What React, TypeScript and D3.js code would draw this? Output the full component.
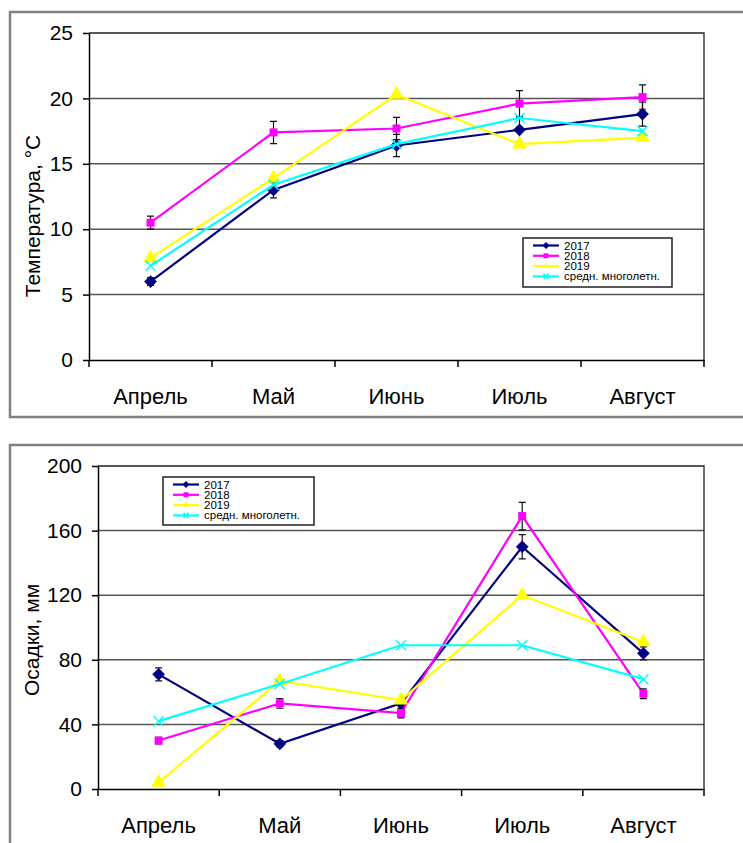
import React, { useEffect, useRef } from "react";
import * as d3 from "d3";

const months = ["Апрель", "Май", "Июнь", "Июль", "Август"];
const seriesNames = ["2017", "2018", "2019", "средн. многолетн."];

// temperature, °C
const tempTicks = [0, 5, 10, 15, 20, 25];
const temp2017 = [6.0, 13.0, 16.4, 17.6, 18.8];
const temp2018 = [10.5, 17.4, 17.7, 19.6, 20.1];
const temp2019 = [7.8, 13.9, 20.3, 16.5, 17.0];
const tempAvg = [7.2, 13.4, 16.5, 18.5, 17.5];
const temp2017Err = [0.3, 0.6, 0.85, 0.9, 0.92];
const temp2018Err = [0.5, 0.85, 0.85, 1.0, 0.93];

// precipitation, mm
const precTicks = [0, 40, 80, 120, 160, 200];
const prec2017 = [71, 28, 53, 150, 84];
const prec2018 = [30, 53, 47, 169, 59];
const prec2019 = [4, 67, 55, 120, 91];
const precAvg = [42, 65, 89, 89, 68];
const prec2017Err = [4, 2, 3, 7.5, 4];
const prec2018Err = [2, 3, 3, 8.5, 3];

const colors = ["#000080", "#FF00FF", "#FFFF00", "#00FFFF"];
const FONT = "'Liberation Sans', Arial, sans-serif";

function marker(g, kind, x, y, s, color) {
  if (kind === 0) {
    g.append("path")
      .attr("d", d3.symbol(d3.symbolSquare, s * s)())
      .attr("transform", `translate(${x},${y}) rotate(45)`)
      .attr("fill", color);
  } else if (kind === 1) {
    g.append("path")
      .attr("d", d3.symbol(d3.symbolSquare, s * s)())
      .attr("transform", `translate(${x},${y})`)
      .attr("fill", color);
  } else if (kind === 2) {
    g.append("path")
      .attr("d", d3.symbol(d3.symbolTriangle, s * s * 0.55)())
      .attr("transform", `translate(${x},${y})`)
      .attr("fill", color);
  } else {
    const h = s / 2;
    g.append("path")
      .attr("d", `M${x - h},${y - h}L${x + h},${y + h}M${x - h},${y + h}L${x + h},${y - h}`)
      .attr("stroke", color)
      .attr("stroke-width", 1.5)
      .attr("fill", "none");
  }
}

function drawChart(svg, cfg) {
  const { frame, plot, ticks, series, errs, title, titleY, legend } = cfg;
  const g = svg.append("g");

  // outer frame (open on the right)
  g.append("path")
    .attr("d", frame)
    .attr("fill", "none")
    .attr("stroke", "#808080")
    .attr("stroke-width", 2.5);

  const x = d3.scaleBand().domain(months).range([plot.left, plot.right]).padding(0);
  const y = d3
    .scaleLinear()
    .domain([ticks[0], ticks[ticks.length - 1]])
    .range([plot.bottom, plot.top]);

  // grid
  g.append("g")
    .selectAll("line")
    .data(ticks.slice(1, -1))
    .join("line")
    .attr("x1", plot.left)
    .attr("x2", plot.right)
    .attr("y1", (d) => y(d))
    .attr("y2", (d) => y(d))
    .attr("stroke", "#555")
    .attr("stroke-width", 1.5);

  // plot border top/right
  g.append("path")
    .attr("d", `M${plot.left},${plot.top}H${plot.right}V${plot.bottom}`)
    .attr("fill", "none")
    .attr("stroke", "#222")
    .attr("stroke-width", 1.3);

  // y axis
  const yAxis = g
    .append("g")
    .attr("transform", `translate(${plot.left},0)`)
    .call(d3.axisLeft(y).tickValues(ticks).tickSize(6).tickPadding(10).tickSizeOuter(0));
  yAxis.select(".domain").attr("stroke", "#000").attr("stroke-width", 1.5);
  yAxis.selectAll("line").attr("stroke", "#000").attr("stroke-width", 1.5);
  yAxis.selectAll("text").attr("font-family", FONT).attr("font-size", 21).attr("fill", "#000");

  // x axis
  const xAxis = g
    .append("g")
    .attr("transform", `translate(0,${plot.bottom})`)
    .call(d3.axisBottom(x).tickSize(0).tickPadding(28.5).tickSizeOuter(0));
  xAxis.select(".domain").attr("stroke", "#000").attr("stroke-width", 1.5);
  xAxis.selectAll("text").attr("font-family", FONT).attr("font-size", 22).attr("fill", "#000");
  const bounds = months.map((m) => x(m)).concat([plot.right]);
  xAxis
    .selectAll(".bnd")
    .data(bounds)
    .join("line")
    .attr("x1", (d) => d)
    .attr("x2", (d) => d)
    .attr("y1", 0)
    .attr("y2", 7)
    .attr("stroke", "#000")
    .attr("stroke-width", 1.5);

  // y title
  g.append("text")
    .attr("transform", `translate(${cfg.titleX},${titleY}) rotate(-90)`)
    .attr("text-anchor", "middle")
    .attr("dominant-baseline", "central")
    .attr("font-family", FONT)
    .attr("font-size", 21)
    .text(title);

  const cx = (i) => x(months[i]) + x.bandwidth() / 2;
  const line = d3
    .line()
    .x((d, i) => cx(i))
    .y((d) => y(d));

  // error bars
  const drawErr = (vals, err) => {
    vals.forEach((v, i) => {
      const e = err[i];
      const xx = cx(i);
      g.append("path")
        .attr("d", `M${xx},${y(v - e)}V${y(v + e)}M${xx - 3.5},${y(v - e)}h7M${xx - 3.5},${y(v + e)}h7`)
        .attr("stroke", "#111")
        .attr("stroke-width", 1.2)
        .attr("fill", "none");
    });
  };

  const sizes = [9, 8, 13, 10];
  series.forEach((vals, k) => {
    g.append("path")
      .attr("d", line(vals))
      .attr("fill", "none")
      .attr("stroke", colors[k])
      .attr("stroke-width", 2.2);
    if (errs[k]) drawErr(vals, errs[k]);
    vals.forEach((v, i) => marker(g, k, cx(i), y(v), sizes[k], colors[k]));
  });

  // legend
  const lg = g.append("g");
  lg.append("rect")
    .attr("x", legend.x)
    .attr("y", legend.y)
    .attr("width", legend.w)
    .attr("height", legend.h)
    .attr("fill", "#fff")
    .attr("stroke", "#222")
    .attr("stroke-width", 1.5);
  seriesNames.forEach((name, k) => {
    const ry = legend.y + 7.5 + k * 10.3;
    const lx0 = legend.x + 10;
    const lx1 = legend.x + 36;
    lg.append("line")
      .attr("x1", lx0)
      .attr("x2", lx1)
      .attr("y1", ry)
      .attr("y2", ry)
      .attr("stroke", colors[k])
      .attr("stroke-width", 2.2);
    marker(lg, k, (lx0 + lx1) / 2, ry, 5, colors[k]);
    lg.append("text")
      .attr("x", legend.x + 41)
      .attr("y", ry)
      .attr("dominant-baseline", "central")
      .attr("font-family", FONT)
      .attr("font-size", 11.5)
      .text(name);
  });
}

export default function App() {
  const ref = useRef(null);

  useEffect(() => {
    document.body.style.margin = "0";
    const svg = d3.select(ref.current);
    svg.selectAll("*").remove();

    drawChart(svg, {
      frame: "M743,12H10V417H743",
      plot: { left: 89, right: 704, top: 33, bottom: 360 },
      ticks: tempTicks,
      series: [temp2017, temp2018, temp2019, tempAvg],
      errs: [temp2017Err, temp2018Err, null, null],
      title: "Температура, °C",
      titleX: 32,
      titleY: 216,
      legend: { x: 523, y: 238, w: 149, h: 49 },
    });

    drawChart(svg, {
      frame: "M743,445H10V843",
      plot: { left: 98, right: 704, top: 466, bottom: 789 },
      ticks: precTicks,
      series: [prec2017, prec2018, prec2019, precAvg],
      errs: [prec2017Err, prec2018Err, null, null],
      title: "Осадки, мм",
      titleX: 31,
      titleY: 640,
      legend: { x: 163, y: 477, w: 151, h: 48 },
    });
  }, []);

  return <svg ref={ref} width={743} height={843} style={{ display: "block", background: "#fff" }} />;
}
